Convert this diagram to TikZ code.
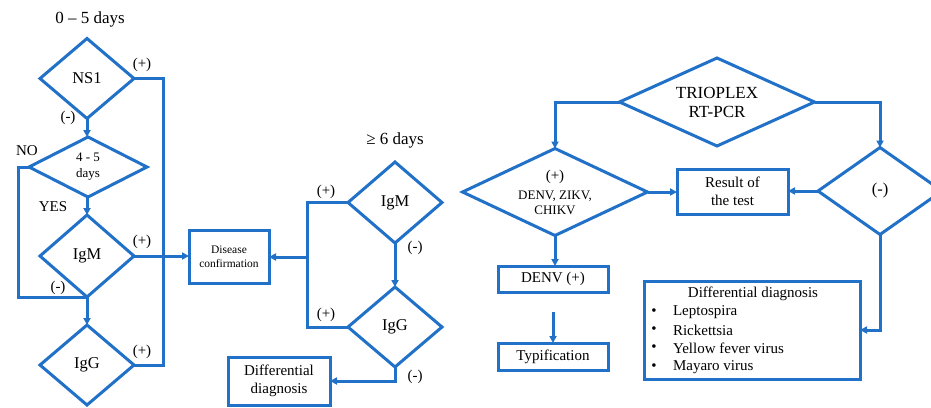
\documentclass[tikz,border=0pt]{standalone}
\usepackage{fontspec}
\setmainfont{Liberation Serif}
\usetikzlibrary{shapes.geometric,arrows.meta}
\definecolor{fblue}{RGB}{33,113,200}
\begin{document}
\begin{tikzpicture}[x=1pt,y=-1pt,
  every node/.style={inner sep=0pt,outer sep=0pt},
  ln/.style={draw=fblue,line width=3pt},
  arr/.style={ln,-{Triangle[length=7pt,width=7pt]}},
  dia/.style={diamond,draw=fblue,line width=3pt,inner sep=0pt,outer sep=0pt},
  boxn/.style={rectangle,draw=fblue,line width=3pt,inner sep=0pt,outer sep=0pt},
  fA/.style={font=\fontsize{16.5}{19}\selectfont},
  fB/.style={font=\fontsize{15}{18}\selectfont},
  fC/.style={font=\fontsize{13}{16}\selectfont},
  fD/.style={font=\fontsize{11.5}{13.5}\selectfont},
  fT/.style={font=\fontsize{17}{19}\selectfont}]
\path[use as bounding box,clip] (0,0) rectangle (931,407);
\fill[white] (0,0) rectangle (931,407);

% ---------- left column ----------
\node[fT] (t05) at (90,19) {0 -- 5 days};
\node[dia,minimum width=94pt,minimum height=80pt,label={[fA]center:NS1}] (ns1) at (87,78.5) {};
\node[dia,minimum width=118pt,minimum height=60pt,label={[fC,align=center]center:4 - 5\\days}] (d45) at (88,167) {};
\node[dia,minimum width=94pt,minimum height=82pt,label={[fA]center:IgM}] (igm1) at (87,256) {};
\node[dia,minimum width=94pt,minimum height=80pt,label={[fA]center:IgG}] (igg1) at (87,365) {};
\node[boxn,minimum width=80pt,minimum height=53pt,fD,align=center] (dc) at (229,256.5) {Disease\\confirmation};

\node[fB] (lp1) at (142,65) {(+)};
\node[fB] (lm1) at (68,118) {(-)};
\node[fB] (lno) at (27,151) {NO};
\node[fB] (lyes) at (53,207) {YES};
\node[fB] (lp2) at (142,242) {(+)};
\node[fB] (lm2) at (58,288) {(-)};
\node[fB] (lp3) at (142,352) {(+)};

\coordinate (r1) at (163,0);
\coordinate (l1) at (18,297);
\draw[ln] (ns1.east) -| (r1 |- igg1.east) -- (igg1.east);
\draw[arr] (ns1.south) -- (d45.north -| ns1.south);
\draw[arr] (d45.south -| igm1.north) -- (igm1.north);
\draw[ln] (d45.west) -| (l1) -- (igm1.south);
\draw[arr] (igm1.south) -- (igg1.north);
\draw[arr] (igm1.east) -- (igm1.east -| dc.west);

% ---------- middle column ----------
\node[fT] (t6) at (395,140) {≥ 6 days};
\node[dia,minimum width=94pt,minimum height=81pt,label={[fA]center:IgM}] (igm2) at (395,202.5) {};
\node[dia,minimum width=94pt,minimum height=80pt,label={[fA]center:IgG}] (igg2) at (395,327) {};
\node[boxn,minimum width=102pt,minimum height=48pt,fB,align=center] (dd1) at (279,381) {Differential\\diagnosis};

\node[fB] (lp4) at (326,192) {(+)};
\node[fB] (lm4) at (415,248) {(-)};
\node[fB] (lp5) at (326,315) {(+)};
\node[fB] (lm5) at (415,377) {(-)};

\coordinate (j) at (307,257);
\draw[ln] (igm2.west) -- (igm2.west -| j) -- (igg2.west -| j) -- (igg2.west);
\draw[arr] (j) -- (j -| dc.east);
\draw[arr] (igm2.south) -- (igg2.north);
\draw[arr] (igg2.south) |- (dd1.east);

% ---------- right part ----------
\node[dia,minimum width=195pt,minimum height=88pt,label={[fT,align=center]center:TRIOPLEX\\RT-PCR}] (tri) at (717,102) {};
\node[dia,minimum width=185pt,minimum height=87pt,label={[fC,align=center]center:{\fontsize{15}{15}\selectfont (+)}\\[3pt]DENV, ZIKV,\\[-1pt]CHIKV}] (pos) at (555,192) {};
\node[dia,minimum width=124pt,minimum height=87pt,label={[fA]center:(-)}] (neg) at (880,191) {};
\node[boxn,minimum width=111pt,minimum height=45pt,fB,align=center] (res) at (732.5,191.5) {Result of\\the test};
\node[boxn,minimum width=110pt,minimum height=26pt,fB] (denv) at (553,279) {DENV (+)};
\node[boxn,minimum width=110pt,minimum height=27pt,fB] (typ) at (553,356.5) {Typification};
\node[boxn,minimum width=216pt,minimum height=98pt] (dd2) at (752,330) {};

\node[fB] (ddt) at (753,294) {Differential diagnosis};
\foreach \i/\t/\y in {1/Leptospira/312,2/Rickettsia/330,3/Yellow fever virus/348,4/Mayaro virus/367}{
  \node[fB] (b\i) at (654,\y) {•};
  \node[fB,anchor=west] (it\i) at (673,\y) {\t};
}

\draw[arr] (tri.west) -| (pos.north);
\draw[arr] (tri.east) -| (neg.north);
\draw[arr] (pos.east) -- (pos.east -| res.west);
\draw[arr] (neg.west) -- (neg.west -| res.east);
\draw[arr] (pos.south) -- (pos.south |- denv.north);
\draw[arr,shorten <=20pt] (denv.south) -- (typ.north);
\draw[arr] (neg.south) |- (dd2.east);
\end{tikzpicture}
\end{document}
